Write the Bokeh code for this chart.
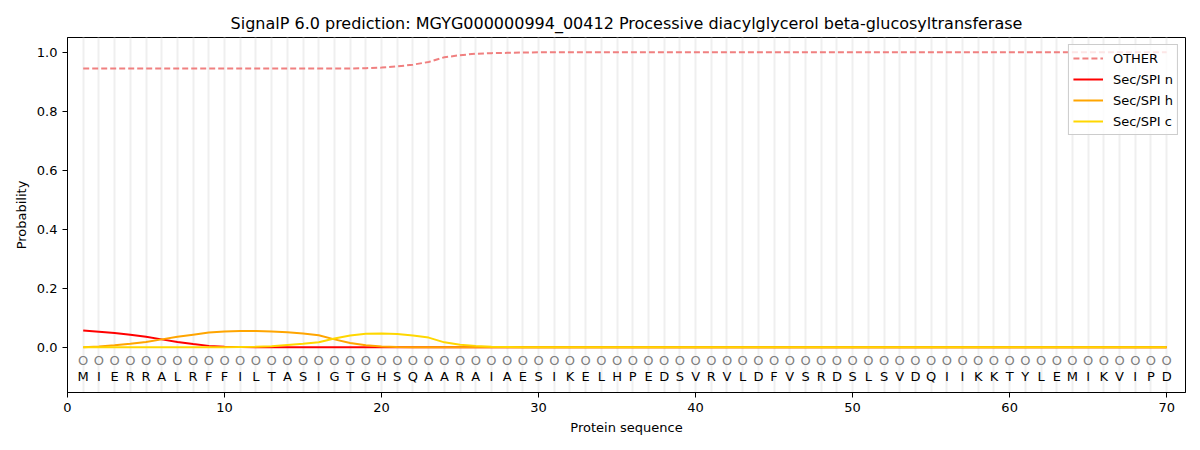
from bokeh.plotting import figure
from bokeh.embed import file_html
from bokeh.resources import INLINE
from bokeh.models import ColumnDataSource, FixedTicker, Legend, LegendItem, CustomJSTickFormatter
from bokeh.core.properties import value

sequence = list("MIERRALRFFILTASIGTGHSQAARAIAESIKELHPEDSVRVLDFVSRDSLSVDQIIKKTYLEMIKVIPD")
positions = list(range(1, len(sequence) + 1))

other = [0.945]*18 + [0.946, 0.948, 0.952, 0.958, 0.967, 0.983, 0.990, 0.995, 0.997, 0.998, 0.999] + [1.0]*41
sec_n = [0.057, 0.053, 0.049, 0.043, 0.036, 0.027, 0.018, 0.011, 0.005, 0.002, 0.001] + [0.0]*59
sec_h = [0.0, 0.003, 0.007, 0.012, 0.018, 0.027, 0.036, 0.043, 0.050, 0.054, 0.055, 0.055, 0.054, 0.051,
         0.047, 0.041, 0.027, 0.015, 0.007, 0.003, 0.001] + [0.0]*49
sec_c = [0.0]*10 + [0.001, 0.002, 0.004, 0.008, 0.012, 0.017, 0.030, 0.040, 0.046, 0.047, 0.045, 0.040,
                    0.033, 0.017, 0.009, 0.005, 0.002, 0.001] + [0.0]*42

x_ticks = [0, 10, 20, 30, 40, 50, 60, 70]
y_ticks = [0.0, 0.2, 0.4, 0.6, 0.8, 1.0]

p = figure(width=1192, height=442, output_backend="svg", toolbar_location=None,
           x_range=(0, 71.2), y_range=(-0.153, 1.05),
           title="SignalP 6.0 prediction: MGYG000000994_00412 Processive diacylglycerol beta-glucosyltransferase",
           min_border_left=67, min_border_right=7, min_border_top=37, min_border_bottom=50)
p.title.align = "center"
p.title.text_font = "DejaVu Sans"
p.title.text_font_size = "16px"
p.title.text_font_style = "normal"
p.title.text_color = "black"

p.outline_line_color = "black"
p.outline_line_width = 1

for ax in (p.xaxis, p.yaxis):
    ax.major_label_text_font = "DejaVu Sans"
    ax.major_label_text_font_size = "13px"
    ax.major_label_text_color = "black"
    ax.axis_label_text_font = "DejaVu Sans"
    ax.axis_label_text_font_size = "13px"
    ax.axis_label_text_font_style = "normal"
    ax.axis_label_text_color = "black"
    ax.minor_tick_line_color = None
    ax.major_tick_out = 5
    ax.major_tick_in = 0
    ax.major_tick_line_color = "black"
    ax.axis_line_color = "black"
p.xaxis.axis_label = "Protein sequence"
p.yaxis.axis_label = "Probability"
p.xaxis.ticker = FixedTicker(ticks=x_ticks)
p.yaxis.ticker = FixedTicker(ticks=y_ticks)
p.yaxis.formatter = CustomJSTickFormatter(code="return tick.toFixed(1);")

p.xgrid.ticker = FixedTicker(ticks=positions)
p.xgrid.grid_line_color = "#efefef"
p.xgrid.grid_line_width = 2
p.ygrid.grid_line_color = None

src = ColumnDataSource(dict(x=positions, seq=sequence, o=["O"]*len(sequence),
                            yo=[-0.045]*len(sequence), ys=[-0.1]*len(sequence),
                            other=other, n=sec_n, h=sec_h, c=sec_c))

r_other = p.line("x", "other", source=src, line_color="#F08080", line_width=2, line_dash="6 3")
r_n = p.line("x", "n", source=src, line_color="red", line_width=2)
r_h = p.line("x", "h", source=src, line_color="orange", line_width=2)
r_c = p.line("x", "c", source=src, line_color="gold", line_width=2)

p.text("x", "yo", text="o", source=src, text_align="center", text_baseline="middle",
       text_color="gray", text_font=value("DejaVu Sans"), text_font_size="13px")
p.text("x", "ys", text="seq", source=src, text_align="center", text_baseline="middle",
       text_color="black", text_font=value("DejaVu Sans"), text_font_size="13px")

legend = Legend(items=[LegendItem(label="OTHER", renderers=[r_other]),
                       LegendItem(label="Sec/SPI n", renderers=[r_n]),
                       LegendItem(label="Sec/SPI h", renderers=[r_h]),
                       LegendItem(label="Sec/SPI c", renderers=[r_c])],
                location="top_right")
legend.label_text_font = "DejaVu Sans"
legend.label_text_font_size = "13px"
legend.label_text_color = "black"
legend.border_line_color = "#cccccc"
legend.border_line_alpha = 1
legend.background_fill_alpha = 0.8
legend.glyph_width = 30
legend.glyph_height = 18
legend.label_height = 18
legend.spacing = 3
legend.padding = 4
legend.margin = 7
legend.label_standoff = 10
p.add_layout(legend)

open("out.html", "w").write(file_html(p, INLINE))
